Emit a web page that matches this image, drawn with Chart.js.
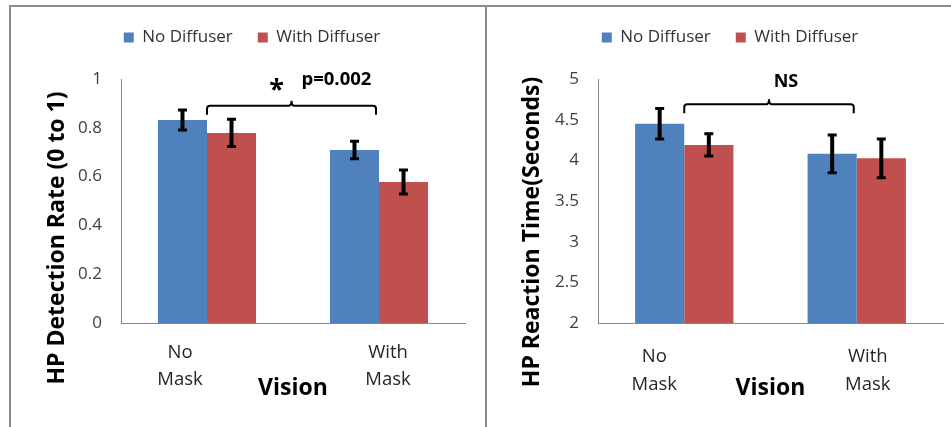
<!DOCTYPE html>
<html><head><meta charset="utf-8">
<script src="https://cdn.jsdelivr.net/npm/chart.js@4.4.1/dist/chart.umd.min.js"></script>
<style>
html,body{margin:0;padding:0;background:#fff;}
#wrap{position:relative;width:951px;height:427px;overflow:hidden;background:#fff;}
.ln{position:absolute;background:#8c8c8c;}
canvas{position:absolute;top:0;}
</style></head>
<body><div id="wrap">
<div class="ln" style="left:9px;top:5px;width:942px;height:2px"></div>
<div class="ln" style="left:9px;top:5px;width:2px;height:422px"></div>
<div class="ln" style="left:485px;top:5px;width:2px;height:422px"></div>
<canvas id="c1" width="486" height="427" style="left:0px"></canvas>
<canvas id="c2" width="463" height="427" style="left:488px"></canvas>
</div>
<script>
// ---- data ----
const categories = ['No Mask', 'With Mask'];
const seriesNames = ['No Diffuser', 'With Diffuser'];
const detectNoDiff = [0.832, 0.709];
const detectNoDiffErr = [0.045, 0.040];
const detectWithDiff = [0.779, 0.578];
const detectWithDiffErr = [0.060, 0.053];
const rtNoDiff = [4.45, 4.08];
const rtNoDiffErr = [0.20, 0.245];
const rtWithDiff = [4.19, 4.025];
const rtWithDiffErr = [0.15, 0.25];
const detectTicks = [0, 0.2, 0.4, 0.6, 0.8, 1];
const rtTicks = [2, 2.5, 3, 3.5, 4, 4.5, 5];
const detectBraceLevel = 0.89;
const rtBraceLevel = 4.69;
const detectNote = ['*', 'p=0.002'];
const rtNote = ['NS'];
const xTitle = 'Vision';
const detectYTitle = 'HP Detection Rate (0 to 1)';
const rtYTitle = 'HP Reaction Time(Seconds)';

const BLUE = '#4F81BD', RED = '#C0504D';
const FONT = "'Open Sans', 'DejaVu Sans', sans-serif";

function annotPlugin(o) {
  return {
    id: 'annot',
    afterDatasetsDraw(chart) {
      const ctx = chart.ctx, y = chart.scales.y;
      chart.data.datasets.forEach((ds, di) => {
        const meta = chart.getDatasetMeta(di);
        meta.data.forEach((bar, i) => {
          const v = ds.data[i], e = o.errors[di][i];
          const t = y.getPixelForValue(v + e), b = y.getPixelForValue(v - e);
          ctx.save();
          ctx.strokeStyle = '#000'; ctx.lineCap = 'butt';
          ctx.lineWidth = 4;
          ctx.beginPath();
          ctx.moveTo(bar.x, t); ctx.lineTo(bar.x, b);
          ctx.stroke();
          ctx.lineWidth = 3;
          ctx.beginPath();
          ctx.moveTo(bar.x - 4.5, t + 1); ctx.lineTo(bar.x + 4.5, t + 1);
          ctx.moveTo(bar.x - 4.5, b - 1); ctx.lineTo(bar.x + 4.5, b - 1);
          ctx.stroke();
          ctx.restore();
        });
      });
    },
    afterDraw(chart) {
      const ctx = chart.ctx, x = chart.scales.x, y = chart.scales.y, ca = chart.chartArea;
      ctx.save();
      // brace
      const x1 = x.getPixelForValue(0), x2 = x.getPixelForValue(1) - 3;
      const xm = (x1 + x2) / 2, yb = y.getPixelForValue(o.brace);
      ctx.strokeStyle = '#000'; ctx.lineWidth = 2;
      ctx.beginPath();
      ctx.moveTo(x1, yb + 9); ctx.lineTo(x1, yb + 3);
      ctx.quadraticCurveTo(x1, yb, x1 + 3, yb);
      ctx.lineTo(xm - 3, yb);
      ctx.quadraticCurveTo(xm, yb, xm, yb - 5);
      ctx.quadraticCurveTo(xm, yb, xm + 3, yb);
      ctx.lineTo(x2 - 3, yb);
      ctx.quadraticCurveTo(x2, yb, x2, yb + 3);
      ctx.lineTo(x2, yb + 9);
      ctx.stroke();
      // note text
      ctx.fillStyle = '#000';
      if (o.note.length === 2) {
        ctx.font = 'bold 27px ' + FONT; ctx.textAlign = 'center'; ctx.textBaseline = 'alphabetic';
        ctx.fillText(o.note[0], xm - 15, yb - 8);
        ctx.font = 'bold 18.5px ' + FONT; ctx.textAlign = 'left'; ctx.textBaseline = 'middle';
        ctx.fillText(o.note[1], xm + 10, yb - 26);
      } else {
        ctx.font = 'bold 18px ' + FONT; ctx.textAlign = 'center'; ctx.textBaseline = 'middle';
        ctx.fillText(o.note[0], xm + 17, yb - 22);
      }
      // category labels
      ctx.font = '18.5px ' + FONT; ctx.fillStyle = '#262626';
      ctx.textAlign = 'center'; ctx.textBaseline = 'middle';
      chart.data.labels.forEach((lab, i) => {
        const cx = x.getPixelForValue(i) + o.labelShift[i];
        lab.split(' ').forEach((w, li) => {
          ctx.fillText(w, cx, ca.bottom + o.labelLines[li]);
        });
      });
      // x title
      ctx.font = 'bold 23px ' + FONT; ctx.fillStyle = '#000';
      ctx.fillText(xTitle, (ca.left + ca.right) / 2, ca.bottom + 65);
      // y title
      ctx.translate(ca.left + o.yTitlePos[0], ca.bottom + o.yTitlePos[1]);
      ctx.rotate(-Math.PI / 2);
      ctx.fillText(o.yTitle, 0, 0);
      ctx.restore();
    }
  };
}

function makeChart(id, s) {
  const ticks = s.ticks;
  return new Chart(document.getElementById(id), {
    type: 'bar',
    data: {
      labels: categories,
      datasets: [
        { label: seriesNames[0], data: s.a, backgroundColor: BLUE, borderWidth: 0, base: ticks[0],
          categoryPercentage: 0.57, barPercentage: 1.0 },
        { label: seriesNames[1], data: s.b, backgroundColor: RED, borderWidth: 0, base: ticks[0],
          categoryPercentage: 0.57, barPercentage: 1.0 }
      ]
    },
    options: {
      responsive: false, animation: false, events: [],
      layout: { padding: s.pad },
      plugins: {
        tooltip: { enabled: false },
        legend: {
          display: true, position: 'top', align: 'center',
          labels: { boxWidth: 10, boxHeight: 10, padding: 25, color: '#333',
                    font: { family: FONT, size: 17 } }
        },
        subtitle: { display: true, text: '', weight: 500, position: 'top',
                    font: { size: 1, lineHeight: 1 }, padding: { top: 0, bottom: 22 } }
      },
      scales: {
        x: {
          grid: { display: false, drawTicks: false },
          border: { display: true, color: '#868686', width: 1 },
          ticks: { display: false }
        },
        y: {
          min: ticks[0], max: ticks[ticks.length - 1],
          afterBuildTicks: sc => { sc.ticks = ticks.map(v => ({ value: v })); },
          afterFit: sc => { sc.width = s.yw; },
          grid: { display: false, drawTicks: false },
          border: { display: true, color: '#868686', width: 1 },
          ticks: { padding: 19, color: '#404040', font: { family: FONT, size: 17 },
                   callback: v => String(v) }
        }
      }
    },
    plugins: [annotPlugin(s)]
  });
}

makeChart('c1', {
  a: detectNoDiff, b: detectWithDiff, errors: [detectNoDiffErr, detectWithDiffErr],
  ticks: detectTicks, brace: detectBraceLevel, note: detectNote,
  pad: { top: 4, left: 39, right: 21, bottom: 104 }, yw: 82,
  labelShift: [-27, 9], labelLines: [30, 57], yTitle: detectYTitle, yTitlePos: [-64, -85]
});
makeChart('c2', {
  a: rtNoDiff, b: rtWithDiff, errors: [rtNoDiffErr, rtWithDiffErr],
  ticks: rtTicks, brace: rtBraceLevel, note: rtNote,
  pad: { top: 4, left: 29, right: 8, bottom: 104 }, yw: 81,
  labelShift: [-30, 11], labelLines: [34, 62], yTitle: rtYTitle, yTitlePos: [-66, -91]
});
</script>
</body></html>
